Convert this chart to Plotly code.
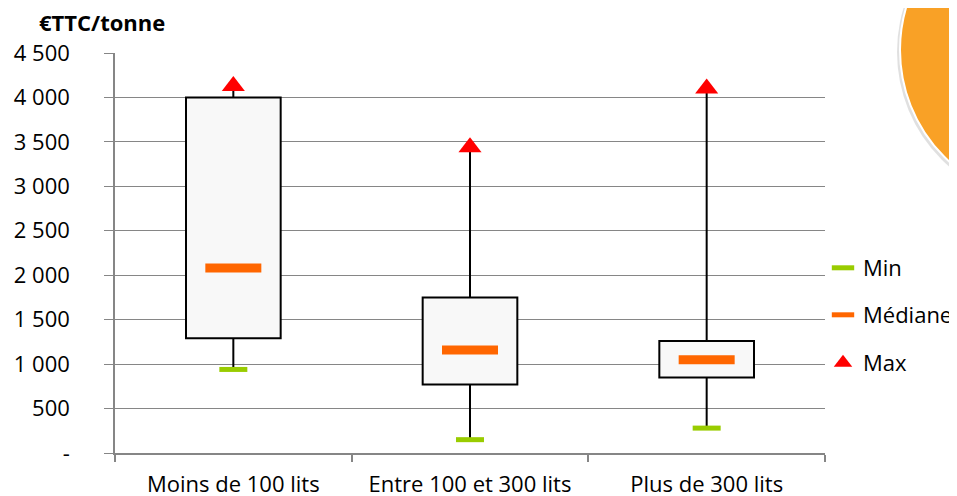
import plotly.graph_objects as go

categories = ["Moins de 100 lits", "Entre 100 et 300 lits", "Plus de 300 lits"]
v_min = [940, 150, 280]
v_q1 = [1290, 770, 850]
v_median = [2080, 1160, 1050]
v_q3 = [4000, 1750, 1260]
v_max = [4130, 3440, 4100]

y_tickvals = [0, 500, 1000, 1500, 2000, 2500, 3000, 3500, 4000, 4500]
y_ticktext = ["-", "500", "1 000", "1 500", "2 000", "2 500", "3 000", "3 500", "4 000", "4 500"]

FONT = "Open Sans"
FS = 22
fig = go.Figure()

# boxes (q1 -> q3)
fig.add_trace(go.Bar(
    x=categories, y=[b - a for a, b in zip(v_q1, v_q3)], base=v_q1, width=0.4,
    marker=dict(color="#F8F8F8", line=dict(color="black", width=2)),
    showlegend=False, hoverinfo="skip"))

# whiskers
wx, wy = [], []
for c, mn, a, b, mx in zip(categories, v_min, v_q1, v_q3, v_max):
    wx += [c, c, None, c, c, None]
    wy += [mn, a, None, b, mx, None]
fig.add_trace(go.Scatter(x=wx, y=wy, mode="lines", line=dict(color="black", width=2),
                         showlegend=False, hoverinfo="skip"))

fig.add_trace(go.Scatter(x=categories, y=v_min, mode="markers", name="Min",
                         marker=dict(symbol="line-ew", size=20, color="#99CC00",
                                     line=dict(color="#99CC00", width=5)),
                         legend="legend"))
fig.add_trace(go.Scatter(x=categories, y=v_median, mode="markers", name="Médiane",
                         marker=dict(symbol="line-ew", size=40, color="#FF6600",
                                     line=dict(color="#FF6600", width=9)),
                         legend="legend2"))
fig.add_trace(go.Scatter(x=categories, y=v_max, mode="markers", name="Max",
                         marker=dict(symbol="triangle-up", size=20, color="#FF0000",
                                     line=dict(width=0)),
                         legend="legend3"))

# plot area in window pixels: x 115..825, y 53..453 (page body offsets figure by 8px)
def pxy(py):
    return (453 - py) / 400

def pxx(px):
    return (px - 115) / 710

legend_common = dict(x=pxx(823), xanchor="left", yanchor="middle",
                     font=dict(family=FONT, size=FS, color="black"),
                     bgcolor="rgba(0,0,0,0)", itemwidth=30)

fig.update_layout(
    width=957, height=488,
    margin=dict(l=107, r=140, t=45, b=43, autoexpand=False),
    paper_bgcolor="white", plot_bgcolor="white",
    font=dict(family=FONT, size=FS, color="black"),
    barmode="overlay",
    legend=dict(y=pxy(268), **legend_common),
    legend2=dict(y=pxy(315), **legend_common),
    legend3=dict(y=pxy(363), **legend_common),
    xaxis=dict(type="category", range=[-0.5, 2.5], tickson="boundaries",
               showgrid=False, showline=True, linecolor="#868686", linewidth=1.5,
               ticks="outside", ticklen=7, tickcolor="#868686", tickwidth=1.5,
               tickfont=dict(family=FONT, size=FS, color="black"),
               ticklabelstandoff=11, automargin=False, fixedrange=True),
    yaxis=dict(range=[0, 4500], tickvals=y_tickvals, ticktext=y_ticktext,
               showgrid=True, gridcolor="#868686", gridwidth=1.3,
               showline=True, linecolor="#868686", linewidth=1.5,
               ticks="outside", ticklen=9, tickcolor="#868686", tickwidth=1.3,
               tickfont=dict(family=FONT, size=FS, color="black"),
               ticklabelstandoff=30, zeroline=False, automargin=False, fixedrange=True),
    annotations=[dict(text="<b>€TTC/tonne</b>", xref="paper", yref="paper",
                      x=pxx(37), y=pxy(22), xanchor="left", yanchor="middle",
                      showarrow=False, font=dict(family=FONT, size=FS, color="black"))],
    shapes=[
        dict(type="circle", xref="paper", yref="paper", layer="above",
             x0=pxx(897), x1=pxx(1201), y0=pxy(204), y1=pxy(-100),
             fillcolor="rgba(0,0,0,0.12)", line=dict(width=0)),
        dict(type="circle", xref="paper", yref="paper", layer="above",
             x0=pxx(900), x1=pxx(1202), y0=pxy(201), y1=pxy(-101),
             fillcolor="#F9A126", line=dict(color="white", width=2)),
    ],
)

fig.write_html("out.html")
